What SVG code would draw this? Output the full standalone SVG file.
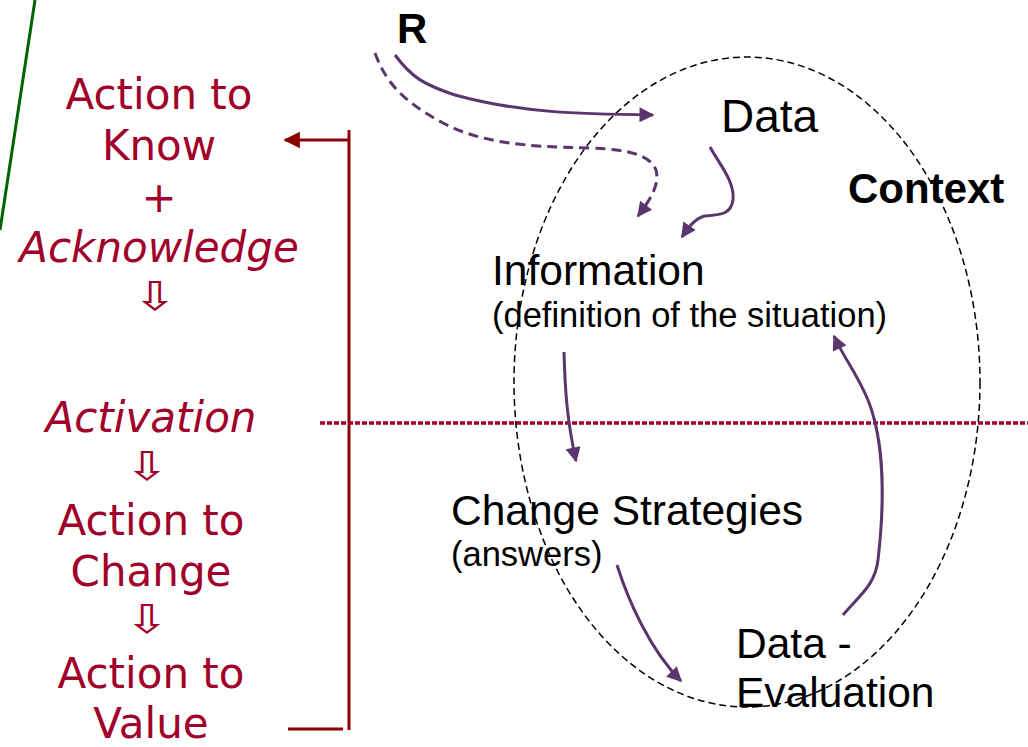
<svg xmlns="http://www.w3.org/2000/svg" width="1028" height="747" viewBox="0 0 1028 747">
<style>
.lt{font-family:"DejaVu Sans",sans-serif;font-size:42px;fill:#a0002a;text-anchor:middle}
.it{font-style:italic}
.ar{font-family:"DejaVu Sans",sans-serif;font-size:40px;fill:#a0002a;text-anchor:middle}
.rt{font-family:"Liberation Sans",Arial,sans-serif;fill:#000}
.big{font-size:42.5px}
.small{font-size:34.5px}
.bold{font-weight:bold;font-size:42px}
.pc{fill:none;stroke:#5b356e;stroke-width:3}
</style>
<defs>
<marker id="pa" viewBox="0 0 10 10" refX="9" refY="5" markerWidth="6" markerHeight="5" orient="auto" markerUnits="strokeWidth">
<path d="M0,0 L10,5 L0,10 z" fill="#5b356e"/>
</marker>
<marker id="ra" viewBox="0 0 10 10" refX="9" refY="5" markerWidth="6" markerHeight="5.5" orient="auto" markerUnits="strokeWidth">
<path d="M0,0 L10,5 L0,10 z" fill="#8b0000"/>
</marker>
</defs>
<rect width="1028" height="747" fill="#fff"/>
<line x1="35" y1="0" x2="0" y2="230" stroke="#006400" stroke-width="3"/>
<g id="left-labels">
<text class="lt" x="159" y="109">Action to</text>
<text class="lt" x="159" y="160">Know</text>
<text class="lt" x="159" y="212">+</text>
<text class="lt it" x="159" y="262">Acknowledge</text>
<text class="ar" transform="translate(155,310) scale(1.35,1)">⇩</text>
<text class="lt it" x="151" y="432" font-size="43">Activation</text>
<text class="ar" transform="translate(147,480) scale(1.35,1)">⇩</text>
<text class="lt" x="151" y="535">Action to</text>
<text class="lt" x="151" y="586">Change</text>
<text class="ar" transform="translate(147,633) scale(1.35,1)">⇩</text>
<text class="lt" x="151" y="688">Action to</text>
<text class="lt" x="151" y="738">Value</text>
</g>
<g id="bracket" fill="none" stroke="#8b0000" stroke-width="3">
<line x1="349" y1="130" x2="349" y2="730"/>
<line x1="349" y1="140" x2="285" y2="140" marker-end="url(#ra)"/>
<line x1="288" y1="729" x2="343" y2="729"/>
</g>
<line id="divider" x1="320" y1="423" x2="1028" y2="423" stroke="#a0002a" stroke-width="3.5" stroke-dasharray="5 2"/>
<ellipse id="context-ellipse" cx="747" cy="382" rx="233" ry="325" fill="none" stroke="#000" stroke-width="1.5" stroke-dasharray="7 4"/>
<g id="node-R"><text class="rt bold" x="397" y="43">R</text></g>
<g id="node-data"><text class="rt" x="721" y="132" font-size="46">Data</text></g>
<g id="node-context"><text class="rt bold" x="848" y="203">Context</text></g>
<g id="node-information">
<text class="rt big" x="492" y="285">Information</text>
<text class="rt small" x="492" y="327">(definition of the situation)</text>
</g>
<g id="node-change">
<text class="rt big" x="451" y="525">Change Strategies</text>
<text class="rt small" x="451" y="566">(answers)</text>
</g>
<g id="node-evaluation">
<text class="rt big" x="736" y="658">Data -</text>
<text class="rt big" x="736" y="707" font-size="43">Evaluation</text>
</g>
<g id="connectors">
<path class="pc" d="M395,55 C412,78 425,85 455,95 C520,113 580,114 653,115" marker-end="url(#pa)"/>
<path class="pc" stroke-dasharray="10 6" d="M375,53 C385,80 400,100 443,123 C480,142 520,147 593,148 C630,150 650,155 656,170 C660,185 650,200 638,216" marker-end="url(#pa)"/>
<path class="pc" d="M710,147 C720,165 735,182 733,200 C731,213 723,215 705,216 C695,218 688,228 682,237" marker-end="url(#pa)"/>
<path class="pc" d="M564,352 C565,390 567,420 576,461" marker-end="url(#pa)"/>
<path class="pc" d="M617,565 C628,600 650,650 681,681" marker-end="url(#pa)"/>
<path class="pc" d="M843,615 C860,595 875,585 878,560 C885,500 884,440 868,400 C855,370 845,360 834,336" marker-end="url(#pa)"/>
</g>
</svg>
